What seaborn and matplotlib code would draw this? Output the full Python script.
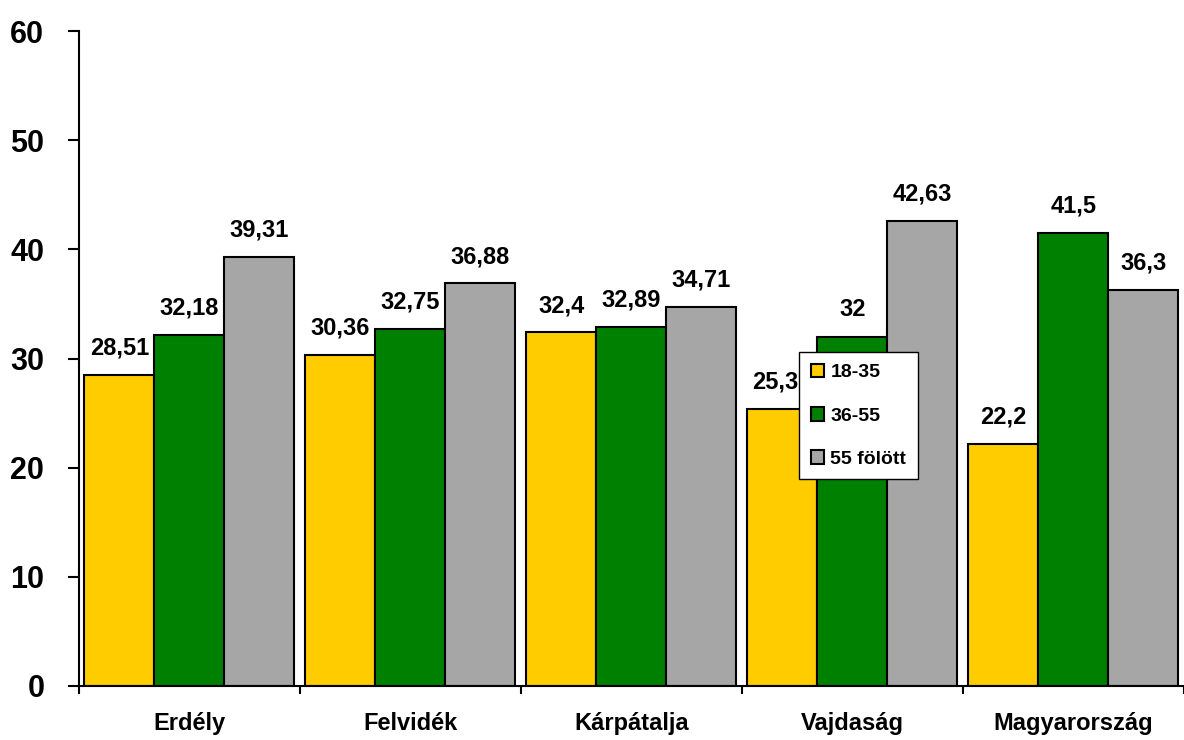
import matplotlib
matplotlib.use("Agg")
import matplotlib.pyplot as plt
import numpy as np
import pandas as pd
import seaborn as sns

# Chart data
REGIONS = ["Erdély", "Felvidék", "Kárpátalja", "Vajdaság", "Magyarország"]
AGE_GROUPS = ["18-35", "36-55", "55 fölött"]
VALUES_18_35 = [28.51, 30.36, 32.4, 25.37, 22.2]
VALUES_36_55 = [32.18, 32.75, 32.89, 32.0, 41.5]
VALUES_55_PLUS = [39.31, 36.88, 34.71, 42.63, 36.3]
Y_TICKS = [0, 10, 20, 30, 40, 50, 60]

COLORS = ["#FFCC00", "#008000", "#A6A6A6"]


def build_frame() -> pd.DataFrame:
    rows = []
    for group, vals in zip(AGE_GROUPS, [VALUES_18_35, VALUES_36_55, VALUES_55_PLUS]):
        for region, v in zip(REGIONS, vals):
            rows.append({"region": region, "age": group, "value": v})
    return pd.DataFrame(rows)


def fmt(v: float) -> str:
    return f"{v:g}".replace(".", ",")


def main() -> None:
    sns.set_style("white")
    plt.rcParams["font.family"] = ["Liberation Sans", "DejaVu Sans"]
    plt.rcParams["font.weight"] = "bold"
    plt.rcParams["text.color"] = "black"
    plt.rcParams["xtick.color"] = "black"
    plt.rcParams["ytick.color"] = "black"

    df = build_frame()
    fig = plt.figure(figsize=(11.84, 7.4), dpi=100)
    ax = fig.add_axes([0.0667, 0.073, 0.933, 0.885])

    sns.barplot(data=df, x="region", y="value", hue="age", order=REGIONS,
                hue_order=AGE_GROUPS, palette=COLORS, width=0.95,
                edgecolor="black", linewidth=1.5, saturation=1, ax=ax)

    for container, vals in zip(ax.containers, [VALUES_18_35, VALUES_36_55, VALUES_55_PLUS]):
        ax.bar_label(container, labels=[fmt(v) for v in vals], padding=11,
                     fontsize=17, fontweight="bold", color="black")

    ax.set_ylim(0, 60)
    ax.set_xlim(-0.5, len(REGIONS) - 0.5)
    ax.set_yticks(Y_TICKS)
    ax.set_yticklabels([str(t) for t in Y_TICKS], fontsize=22, fontweight="bold")
    ax.set_xlabel("")
    ax.set_ylabel("")

    # category labels at centers, tick marks at boundaries
    ax.set_xticks(range(len(REGIONS)))
    ax.set_xticklabels(REGIONS, fontsize=17, fontweight="bold")
    ax.set_xticks(np.arange(-0.5, len(REGIONS), 1.0), minor=True)
    ax.tick_params(axis="x", which="major", length=0, pad=19)
    ax.tick_params(axis="x", which="minor", length=6, width=1.5, direction="out",
                   color="black", bottom=True)
    ax.tick_params(axis="y", length=8, width=1.5, direction="out", color="black",
                   left=True, pad=17)

    for side in ["top", "right"]:
        ax.spines[side].set_visible(False)
    for side in ["left", "bottom"]:
        ax.spines[side].set_color("black")
        ax.spines[side].set_linewidth(1.5)

    leg = ax.legend(loc="upper left", bbox_to_anchor=(0.652, 0.51), borderaxespad=0,
                    frameon=True, fancybox=False, edgecolor="black", framealpha=1,
                    prop={"size": 14, "weight": "bold"}, handlelength=0.7,
                    handleheight=0.7, labelspacing=1.32, handletextpad=0.3,
                    borderpad=0.6)
    leg.get_frame().set_linewidth(1.0)
    for h in leg.legend_handles:
        h.set_edgecolor("black")
        h.set_linewidth(1.5)

    fig.savefig("out.png", dpi=100)
    plt.close(fig)


if __name__ == "__main__":
    main()
